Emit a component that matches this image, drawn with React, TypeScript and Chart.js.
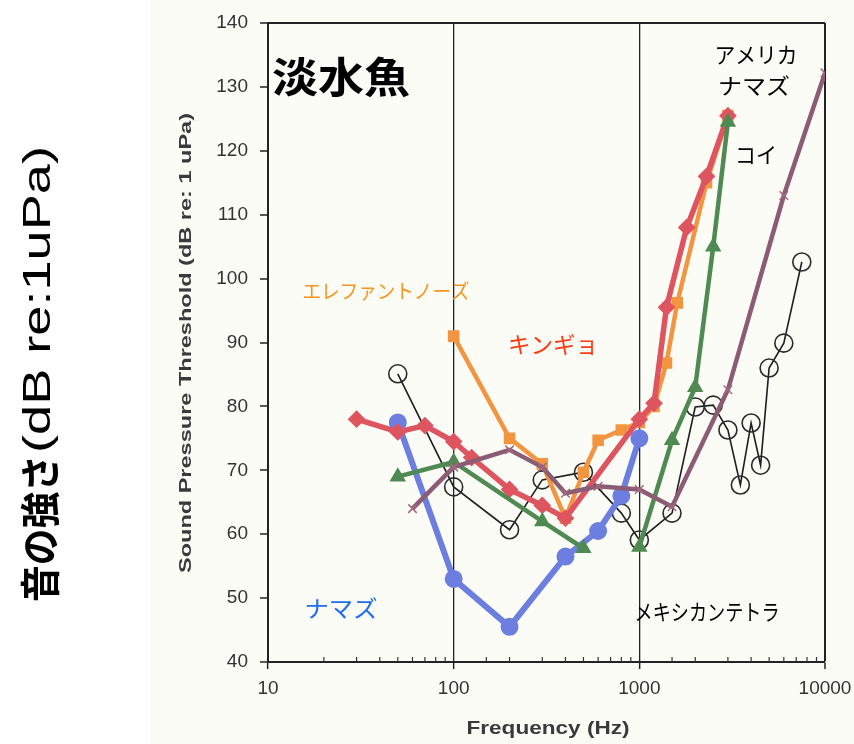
import React, { useEffect, useRef } from 'react';
import { Chart, registerables } from 'chart.js';

Chart.register(...registerables);

// ---- data (frequency in Hz, threshold in dB re 1 uPa) ----
const Y_TICKS = [40, 50, 60, 70, 80, 90, 100, 110, 120, 130, 140];
const X_TICK_LABELS = [10, 100, 1000, 10000];

const catfishX = [50, 100, 200, 400, 600, 800, 1000];
const catfishY = [77.5, 53, 45.5, 56.5, 60.5, 66, 75];

const goldfishX = [30, 50, 70, 100, 125, 200, 300, 400, 1000, 1200, 1400, 1800, 2300, 3000];
const goldfishY = [78, 76, 77, 74.5, 72, 67, 64.5, 62.5, 78, 80.5, 95.5, 108, 116, 125.5];

const elephantnoseX = [100, 200, 300, 400, 500, 600, 800, 1000, 1200, 1400, 1600, 2300, 3000];
const elephantnoseY = [91, 75, 71, 62.5, 69.7, 74.7, 76.3, 77.5, 80, 86.8, 96.2, 115, 125.5];

const carpX = [50, 100, 300, 500, 700, 1000, 1500, 2000, 2500, 3000];
const carpY = [69, 71.3, 62, 57.8, null, 58, 74.7, 83, 105, 124.5];

const channelCatfishX = [60, 100, 200, 300, 400, 600, 1000, 1500, 3000, 6000, 10000];
const channelCatfishY = [64, 70.5, 73.2, 70.5, 66.4, 67.5, 67, 64.3, 82.6, 113, 132.2];

const tetraX = [50, 100, 200, 300, 500, 800, 1000, 1500, 2000, 2500, 3000, 3500, 4000, 4500, 5000, 6000, 7500];
const tetraY = [85.1, 67.4, 60.7, 68.5, 69.7, 63.3, 59.1, 63.3, 79.9, 80.2, 76.3, 67.7, 77.4, 70.8, 86, 89.9, 102.6];

const pts = (xs: number[], ys: (number | null)[]) => xs.map((x, i) => ({ x, y: ys[i] }));

const isMajor = (v: number) => X_TICK_LABELS.includes(Math.round(v));

function fitText(
  ctx: CanvasRenderingContext2D,
  text: string,
  x: number,
  y: number,
  width: number,
  font: string,
  color: string,
  rotate = false,
  align: CanvasTextAlign = 'center'
) {
  ctx.save();
  ctx.translate(x, y);
  if (rotate) ctx.rotate(-Math.PI / 2);
  ctx.font = font;
  const w = ctx.measureText(text).width;
  ctx.scale(width / w, 1);
  ctx.textAlign = align;
  ctx.textBaseline = 'middle';
  ctx.fillStyle = color;
  ctx.fillText(text, 0, 0);
  ctx.restore();
}

const JP = '"Noto Sans CJK JP", "Noto Sans", sans-serif';
const SANS = '"Liberation Sans", Arial, sans-serif';

const decorPlugin = {
  id: 'decor',
  beforeDraw(chart: any) {
    const ctx = chart.ctx as CanvasRenderingContext2D;
    ctx.save();
    ctx.fillStyle = '#ffffff';
    ctx.fillRect(0, 0, chart.width, chart.height);
    ctx.fillStyle = '#fcfcf7';
    ctx.fillRect(150, 0, chart.width - 150, chart.height);
    ctx.restore();
  },
  afterDraw(chart: any) {
    const ctx = chart.ctx as CanvasRenderingContext2D;
    const xs = chart.scales.x;
    const area = chart.chartArea;
    // minor ticks on the frequency axis, pointing inward
    ctx.save();
    ctx.strokeStyle = '#333';
    ctx.lineWidth = 1.2;
    xs.ticks.forEach((t: any) => {
      if (isMajor(t.value)) return;
      const px = xs.getPixelForValue(t.value);
      ctx.beginPath();
      ctx.moveTo(px, area.bottom);
      ctx.lineTo(px, area.bottom - 5);
      ctx.stroke();
    });
    ctx.restore();

    // axis titles
    fitText(ctx, 'Sound Pressure Threshold (dB re: 1 uPa)', 186, 343, 460, `bold 17px ${SANS}`, '#3a3a3a', true);
    fitText(ctx, 'Frequency (Hz)', 548, 729, 163, `bold 19px ${SANS}`, '#3a3a3a');

    // big Japanese y title: 音の強さ(dB re:1uPa)
    ctx.save();
    ctx.translate(40, 602);
    ctx.rotate(-Math.PI / 2);
    ctx.textBaseline = 'middle';
    ctx.fillStyle = '#000';
    ctx.font = `bold 40px ${JP}`;
    let w = ctx.measureText('音の強さ').width;
    ctx.save();
    ctx.scale(147 / w, 1);
    ctx.fillText('音の強さ', 0, 0);
    ctx.restore();
    ctx.font = `38px ${SANS}`;
    w = ctx.measureText('(dB re:1uPa)').width;
    ctx.translate(149, 0);
    ctx.scale(307 / w, 1);
    ctx.fillText('(dB re:1uPa)', 0, 0);
    ctx.restore();

    // series labels
    fitText(ctx, '淡水魚', 341, 77, 138, `bold 42px ${JP}`, '#000');
    fitText(ctx, 'アメリカ', 756, 55, 83, `22px ${JP}`, '#000');
    fitText(ctx, 'ナマズ', 754, 86, 72, `22px ${JP}`, '#000');
    fitText(ctx, 'コイ', 756, 155, 42, `22px ${JP}`, '#000');
    fitText(ctx, 'エレファントノーズ', 386, 291, 167, `20px ${JP}`, '#f7941d');
    fitText(ctx, 'キンギョ', 553, 344, 90, `23px ${JP}`, '#ff3a10');
    fitText(ctx, 'ナマズ', 341, 608, 73, `23px ${JP}`, '#1f6cf0');
    fitText(ctx, 'メキシカンテトラ', 707, 612, 145, `22px ${JP}`, '#000');
  },
};

export default function App() {
  const ref = useRef<HTMLCanvasElement | null>(null);

  useEffect(() => {
    if (!ref.current) return;
    const chart = new Chart(ref.current, {
      type: 'line',
      data: {
        datasets: [
          {
            label: 'アメリカナマズ',
            data: pts(channelCatfishX, channelCatfishY),
            borderColor: '#8c5c74',
            backgroundColor: '#8c5c74',
            borderWidth: 4.5,
            pointStyle: 'crossRot',
            pointRadius: 6,
            pointBorderWidth: 1.5,
            pointBorderColor: '#a06a80',
          },
          {
            label: 'コイ',
            data: pts(carpX, carpY),
            borderColor: '#4f8a52',
            backgroundColor: '#4f8a52',
            borderWidth: 4.5,
            pointStyle: 'triangle',
            pointRadius: 5,
            spanGaps: false,
          },
          {
            label: 'キンギョ',
            data: pts(goldfishX, goldfishY),
            borderColor: '#de5560',
            backgroundColor: '#de5560',
            borderWidth: 5.5,
            pointStyle: 'rectRot',
            pointRadius: 5,
          },
          {
            label: 'エレファントノーズ',
            data: pts(elephantnoseX, elephantnoseY),
            borderColor: '#f39540',
            backgroundColor: '#f39540',
            borderWidth: 4.5,
            pointStyle: 'rect',
            pointRadius: 5,
          },
          {
            label: 'ナマズ',
            data: pts(catfishX, catfishY),
            borderColor: '#6c7fe0',
            backgroundColor: '#6c7fe0',
            borderWidth: 6,
            pointStyle: 'circle',
            pointRadius: 6,
          },
          {
            label: 'メキシカンテトラ',
            data: pts(tetraX, tetraY),
            borderColor: '#1e1e1e',
            backgroundColor: 'rgba(0,0,0,0)',
            borderWidth: 1.6,
            pointStyle: 'circle',
            pointRadius: 9,
            pointBorderWidth: 1.6,
            pointBorderColor: '#2a2a2a',
          },
        ],
      },
      options: {
        responsive: false,
        animation: false,
        events: [],
        layout: { padding: { left: 150, top: 23, right: 29, bottom: 0 } },
        plugins: {
          legend: { display: false },
          tooltip: { enabled: false },
          title: { display: false },
        },
        scales: {
          x: {
            type: 'logarithmic',
            min: 10,
            max: 10000,
            afterFit: (s: any) => {
              s.height = 82;
              s.paddingLeft = 0;
              s.paddingRight = 0;
            },
            border: { display: true, color: '#222', width: 2 },
            grid: {
              drawTicks: true,
              tickLength: 7,
              color: (c: any) => {
                const v = Math.round(c.tick?.value ?? 0);
                return v === 100 || v === 1000 || v === 10000 ? '#222' : 'rgba(0,0,0,0)';
              },
              lineWidth: (c: any) => (Math.round(c.tick?.value ?? 0) === 10000 ? 2 : 1.3),
              tickColor: (c: any) => (isMajor(c.tick?.value ?? 0) ? '#222' : 'rgba(0,0,0,0)'),
              tickWidth: 1.5,
            },
            ticks: {
              autoSkip: false,
              maxRotation: 0,
              padding: 8,
              color: '#333',
              font: { family: SANS, size: 19 },
              callback: (v: any) => (isMajor(Number(v)) ? String(Math.round(Number(v))) : ''),
            },
          },
          y: {
            type: 'linear',
            min: 40,
            max: 140,
            afterFit: (s: any) => {
              s.width = 118;
              s.paddingTop = 0;
              s.paddingBottom = 0;
            },
            afterBuildTicks: (s: any) => {
              s.ticks = Y_TICKS.map((v) => ({ value: v }));
            },
            border: { display: true, color: '#222', width: 2 },
            grid: {
              drawTicks: true,
              tickLength: 8,
              color: (c: any) => (c.tick?.value === 140 ? '#222' : 'rgba(0,0,0,0)'),
              lineWidth: 2,
              tickColor: '#222',
              tickWidth: 1.5,
            },
            ticks: {
              padding: 12,
              color: '#333',
              font: { family: SANS, size: 19 },
            },
          },
        },
      } as any,
      plugins: [decorPlugin],
    });
    return () => chart.destroy();
  }, []);

  return (
    <div style={{ position: 'absolute', left: 0, top: 0, width: 854, height: 744 }}>
      <canvas ref={ref} width={854} height={744} style={{ display: 'block' }} />
    </div>
  );
}
